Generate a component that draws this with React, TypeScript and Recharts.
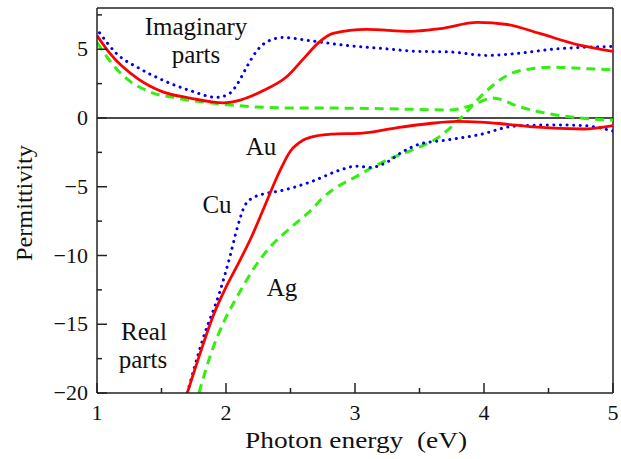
import React from "react";
import { LineChart, Line, XAxis, YAxis, ReferenceLine } from "recharts";

// ---- Data (photon energy in eV, permittivity) ----
const auImagE = [1.0, 1.1, 1.31, 1.51, 1.72, 1.98, 2.11, 2.29, 2.47, 2.6, 2.72, 2.83, 3.09, 3.43, 3.66, 3.95, 4.18, 4.43, 4.74, 5.0];
const auImagV = [6.0, 4.7, 2.9, 1.9, 1.45, 1.1, 1.3, 2.0, 3.0, 4.3, 5.5, 6.15, 6.45, 6.3, 6.5, 6.95, 6.8, 6.15, 5.3, 4.85];

const auRealE = [1.7, 1.8, 1.9, 2.0, 2.1, 2.2, 2.3, 2.4, 2.5, 2.6, 2.7, 2.81, 3.06, 3.33, 3.58, 3.79, 3.97, 4.12, 4.38, 4.77, 5.0];
const auRealV = [-20, -17.1, -14.4, -12.3, -10.5, -8.6, -6.4, -4.2, -2.4, -1.6, -1.3, -1.18, -1.1, -0.7, -0.4, -0.25, -0.3, -0.4, -0.65, -0.8, -0.55];

const cuImagE = [1.02, 1.15, 1.33, 1.51, 1.72, 1.93, 2.03, 2.09, 2.16, 2.24, 2.34, 2.44, 2.67, 2.91, 3.22, 3.48, 3.74, 4.02, 4.26, 4.53, 5.0];
const cuImagV = [6.2, 4.7, 3.6, 2.75, 2.0, 1.5, 1.8, 2.5, 3.7, 4.9, 5.65, 5.85, 5.6, 5.3, 5.05, 4.85, 4.8, 4.55, 4.7, 5.0, 5.2];

const cuRealE = [1.7, 1.82, 1.95, 2.03, 2.09, 2.15, 2.22, 2.3, 2.42, 2.67, 2.88, 3.01, 3.12, 3.25, 3.37, 3.5, 3.71, 3.97, 4.23, 4.53, 4.77, 5.0];
const cuRealV = [-20, -16.1, -12.7, -10.1, -7.9, -6.3, -5.75, -5.5, -5.3, -4.6, -3.8, -3.5, -3.6, -3.2, -2.45, -1.9, -1.6, -1.2, -0.6, -0.5, -0.55, -0.95];

const agImagE = [1.0, 1.08, 1.2, 1.41, 1.62, 1.98, 2.24, 2.57, 2.83, 3.35, 3.74, 3.89, 4.07, 4.28, 4.51, 4.75, 5.0];
const agImagV = [5.5, 4.4, 3.1, 1.9, 1.45, 1.0, 0.8, 0.72, 0.72, 0.65, 0.58, 0.87, 1.45, 0.8, 0.3, 0.0, -0.15];

const agRealE = [1.79, 1.9, 1.98, 2.11, 2.24, 2.36, 2.5, 2.67, 2.74, 3.04, 3.25, 3.45, 3.64, 3.81, 4.0, 4.18, 4.38, 4.53, 4.77, 5.0];
const agRealV = [-20, -16.7, -14.9, -12.6, -10.6, -9.2, -8.0, -6.6, -5.9, -4.1, -3.05, -2.3, -1.45, -0.1, 1.8, 3.1, 3.6, 3.7, 3.6, 3.5];

const xTicks = [1, 1.5, 2, 2.5, 3, 3.5, 4, 4.5, 5];
const yTicks = [-20, -17.5, -15, -12.5, -10, -7.5, -5, -2.5, 0, 2.5, 5, 7.5];

const xLabel = "Photon energy\u00a0\u00a0(eV)";
const yLabel = "Permittivity";

const build = (es: number[], vs: number[]) => es.map((e, i) => ({ e, v: vs[i] }));

const FONT = "Liberation Serif";
const AXIS = "#222";
const RED = "#ff0000";
const BLUE = "#0000ee";
const GREEN = "#33ee11";

const fmt = (v: number) => (v < 0 ? "\u2212" + Math.abs(v) : String(v));

const YTick = (props: any) => {
  const { x, y, payload } = props;
  const v = payload.value as number;
  const major = v % 5 === 0;
  return (
    <g>
      <line x1={x} x2={x + (major ? 10 : 5)} y1={y} y2={y} stroke={AXIS} strokeWidth={1.5} />
      {major && (
        <text x={x - 9} y={y + 7} textAnchor="end" style={{ fontFamily: FONT, fontSize: 22 }} fill="#111">
          {fmt(v)}
        </text>
      )}
    </g>
  );
};

const XTick = (props: any) => {
  const { x, y, payload } = props;
  const v = payload.value as number;
  const major = Number.isInteger(v);
  return (
    <g>
      <line x1={x} x2={x} y1={y} y2={y - (major ? 10 : 5)} stroke={AXIS} strokeWidth={1.5} />
      {major && (
        <text x={x} y={y + 27} textAnchor="middle" style={{ fontFamily: FONT, fontSize: 22 }} fill="#111">
          {fmt(v)}
        </text>
      )}
    </g>
  );
};

export default function App() {
  const txt = { fontFamily: FONT, fontSize: 25 } as const;
  return (
    <div style={{ position: "absolute", left: 0, top: 0, width: 621, height: 459, background: "#fff" }}>
      <LineChart width={621} height={459} margin={{ top: 8, right: 8, bottom: 0, left: 0 }}>
        <XAxis
          type="number"
          dataKey="e"
          domain={[1, 5]}
          ticks={xTicks}
          interval={0}
          height={66}
          tickSize={0}
          tickMargin={0}
          tick={<XTick />}
          axisLine={{ stroke: AXIS, strokeWidth: 1.5 }}
          allowDataOverflow
        />
        <YAxis
          type="number"
          domain={[-20, 8]}
          ticks={yTicks}
          interval={0}
          width={97}
          tickSize={0}
          tickMargin={0}
          tick={<YTick />}
          axisLine={{ stroke: AXIS, strokeWidth: 1.5 }}
          allowDataOverflow
        />
        <ReferenceLine y={8} stroke={AXIS} strokeWidth={1.5} />
        <ReferenceLine x={5} stroke={AXIS} strokeWidth={1.5} />
        <ReferenceLine y={0} stroke="#111" strokeWidth={1.5} />
        <Line data={build(agImagE, agImagV)} dataKey="v" type="monotone" stroke={GREEN} strokeWidth={3} strokeDasharray="9 6" dot={false} isAnimationActive={false} />
        <Line data={build(agRealE, agRealV)} dataKey="v" type="monotone" stroke={GREEN} strokeWidth={3} strokeDasharray="9 6" dot={false} isAnimationActive={false} />
        <Line data={build(cuImagE, cuImagV)} dataKey="v" type="monotone" stroke={BLUE} strokeWidth={3} strokeDasharray="0.1 6.5" strokeLinecap="round" dot={false} isAnimationActive={false} />
        <Line data={build(cuRealE, cuRealV)} dataKey="v" type="monotone" stroke={BLUE} strokeWidth={3} strokeDasharray="0.1 6.5" strokeLinecap="round" dot={false} isAnimationActive={false} />
        <Line data={build(auImagE, auImagV)} dataKey="v" type="monotone" stroke={RED} strokeWidth={2.8} dot={false} isAnimationActive={false} />
        <Line data={build(auRealE, auRealV)} dataKey="v" type="monotone" stroke={RED} strokeWidth={2.8} dot={false} isAnimationActive={false} />
      </LineChart>
      <svg width={621} height={459} style={{ position: "absolute", left: 0, top: 0, pointerEvents: "none" }}>
        <g style={txt} fill="#111">
          <text x={196} y={35} textAnchor="middle">Imaginary</text>
          <text x={196} y={63} textAnchor="middle">parts</text>
          <text x={261} y={155} textAnchor="middle">Au</text>
          <text x={217} y={213} textAnchor="middle">Cu</text>
          <text x={282} y={296} textAnchor="middle">Ag</text>
          <text x={144} y={340} textAnchor="middle">Real</text>
          <text x={143} y={368} textAnchor="middle">parts</text>
        </g>
        <text x={356} y={448} textAnchor="middle" textLength={222} lengthAdjust="spacingAndGlyphs" style={{ fontFamily: FONT, fontSize: 23 }} fill="#111">{xLabel}</text>
        <text transform="translate(32, 203) rotate(-90)" x={0} y={0} textAnchor="middle" textLength={116} lengthAdjust="spacingAndGlyphs" style={{ fontFamily: FONT, fontSize: 23 }} fill="#111">{yLabel}</text>
      </svg>
    </div>
  );
}
